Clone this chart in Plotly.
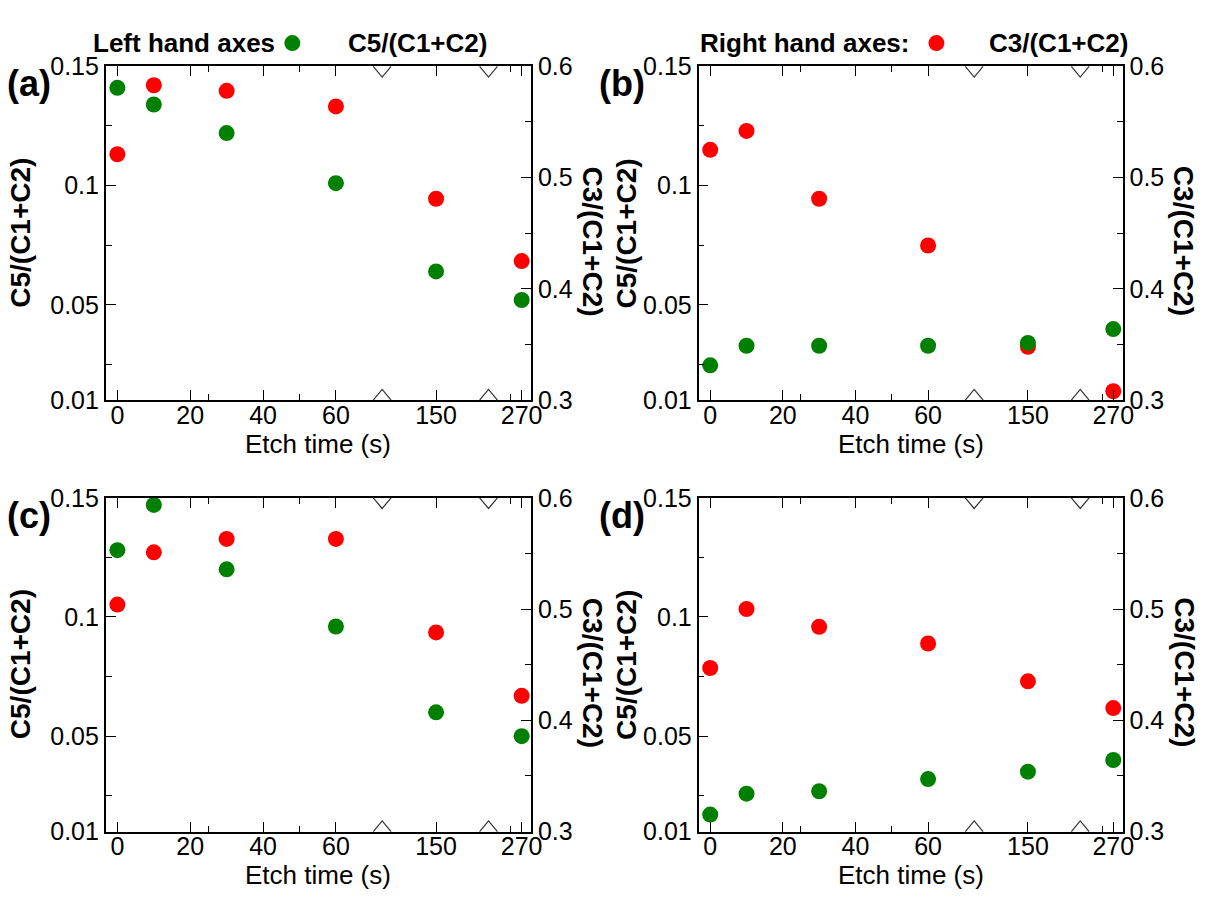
import numpy as np
import plotly.graph_objects as go

# ---- data -------------------------------------------------------------
etch_time = [0, 10, 30, 60, 150, 270]

c5_a = [0.141, 0.134, 0.122, 0.101, 0.064, 0.052]
c3_a = [0.521, 0.583, 0.578, 0.564, 0.481, 0.425]
c5_b = [0.0246, 0.0328, 0.0328, 0.0328, 0.0340, 0.0398]
c3_b = [0.525, 0.542, 0.481, 0.439, 0.348, 0.308]
c5_c = [0.128, 0.147, 0.120, 0.096, 0.060, 0.050]
c3_c = [0.504, 0.551, 0.563, 0.563, 0.479, 0.422]
c5_d = [0.0171, 0.0259, 0.0269, 0.0320, 0.0351, 0.0400]
c3_d = [0.447, 0.500, 0.484, 0.469, 0.435, 0.411]

x_tick_times = [0, 20, 40, 60, 150, 270]
x_tick_labels = ["0", "20", "40", "60", "150", "270"]
x_minor_times = [25, 50, 255]

left_ticks = [0.01, 0.05, 0.1, 0.15]
left_labels = ["0.01", "0.05", "0.1", "0.15"]
left_minor = [0.025, 0.075, 0.125]
right_ticks = [0.3, 0.4, 0.5, 0.6]
right_labels = ["0.3", "0.4", "0.5", "0.6"]
right_minor = [0.35, 0.45, 0.55]

# ---- broken time axis --------------------------------------------------
# 0-60 s is drawn to scale, the long times sit after two axis breaks
TIME_ANCHORS = [0, 60, 150, 270]
AXIS_ANCHORS = [0, 60, 87.5, 111.0]
BREAK_POS = [72.7, 101.9]
X_RANGE = [-3.2, 113.6]


def to_axis(times):
    return list(np.interp(times, TIME_ANCHORS, AXIS_ANCHORS))


GREEN = "#008000"
RED = "#ff0000"
FONT = "Liberation Sans, Arial, sans-serif"
W, H = 1211, 917


def px(x):
    return x / W


def py(y):
    return 1 - y / H


col_dom = [[px(106.7), px(536)], [px(705), px(1133)]]
row_dom = [[py(398.3), py(54)], [py(843.3), py(499)]]
left_title_gap = [86, 73]

panels = [
    ("(a)", c5_a, c3_a, 0, 0),
    ("(b)", c5_b, c3_b, 0, 1),
    ("(c)", c5_c, c3_c, 1, 0),
    ("(d)", c5_d, c3_d, 1, 1),
]

fig = go.Figure()
layout = {}
shapes = []
annotations = []

tick_font = dict(family=FONT, size=25, color="black")
minor_style = dict(ticks="inside", ticklen=6, tickwidth=1.3, tickcolor="black")
axis_common = dict(
    showline=True, linecolor="black", linewidth=1.6,
    ticks="inside", ticklen=10, tickwidth=1.3, tickcolor="black",
    showgrid=False, zeroline=False, tickfont=tick_font,
)

for k, (label, c5, c3, r, c) in enumerate(panels, start=1):
    xname = "x" if k == 1 else f"x{k}"
    base_n, over_n = 2 * k - 1, 2 * k
    base = "y" if base_n == 1 else f"y{base_n}"
    over = f"y{over_n}"

    # C3 ratio on the right-hand axis
    fig.add_trace(go.Scatter(
        x=to_axis(etch_time), y=c3, xaxis=xname, yaxis=base, mode="markers",
        marker=dict(color=RED, size=16), cliponaxis=False, showlegend=False,
        name="C3/(C1+C2)"))
    # C5 ratio on the left-hand axis
    fig.add_trace(go.Scatter(
        x=to_axis(etch_time), y=c5, xaxis=xname, yaxis=over, mode="markers",
        marker=dict(color=GREEN, size=16), cliponaxis=False, showlegend=False,
        name="C5/(C1+C2)"))

    layout["xaxis" if k == 1 else f"xaxis{k}"] = dict(
        axis_common, domain=col_dom[c], anchor=base, range=X_RANGE,
        tickvals=to_axis(x_tick_times), ticktext=x_tick_labels, mirror="ticks",
        ticklabelstandoff=-8,
        minor=dict(minor_style, tickvals=to_axis(x_minor_times)),
    )
    layout["yaxis" if base_n == 1 else f"yaxis{base_n}"] = dict(
        axis_common, domain=row_dom[r], anchor=xname, side="right",
        range=[0.3, 0.6], tickvals=right_ticks, ticktext=right_labels,
        minor=dict(minor_style, tickvals=right_minor),
    )
    layout[f"yaxis{over_n}"] = dict(
        axis_common, overlaying=base, anchor=xname, side="left",
        range=[0.01, 0.15], tickvals=left_ticks, ticktext=left_labels,
        minor=dict(minor_style, tickvals=left_minor),
    )

    # axis-break marks on the top and bottom frame lines
    yref = f"{base} domain"
    hw, hh = 2.45, 0.032
    for bx in BREAK_POS:
        shapes.append(dict(type="path", xref=xname, yref=yref,
                           path=f"M{bx-hw},1 L{bx},{1-hh} L{bx+hw},1",
                           line=dict(color="#333333", width=1.2)))
        shapes.append(dict(type="path", xref=xname, yref=yref,
                           path=f"M{bx-hw},0 L{bx},{hh} L{bx+hw},0",
                           line=dict(color="#333333", width=1.2)))

    x0, x1 = col_dom[c]
    y0, y1 = row_dom[r]
    xm = (x0 + x1) / 2
    ym = (y0 + y1) / 2
    # x-axis title
    annotations.append(dict(text="Etch time (s)", xref="paper", yref="paper",
                            x=xm, y=y0 - 45 / H, xanchor="center",
                            yanchor="middle", showarrow=False,
                            font=dict(family=FONT, size=26, color="black")))
    # left and right axis titles
    annotations.append(dict(text="<b>C5/(C1+C2)</b>", xref="paper", yref="paper",
                            x=x0 - left_title_gap[c] / W, y=ym, textangle=-90,
                            xanchor="center", yanchor="middle", showarrow=False,
                            font=dict(family=FONT, size=28, color="black")))
    annotations.append(dict(text="<b>C3/(C1+C2)</b>", xref="paper", yref="paper",
                            x=x1 + 62 / W, y=ym - 8 / H, textangle=90,
                            xanchor="center", yanchor="middle", showarrow=False,
                            font=dict(family=FONT, size=28, color="black")))
    # panel label
    annotations.append(dict(text=f"<b>{label}</b>", xref="paper", yref="paper",
                            x=x0 - 77 / W, y=y1 - 18 / H, xanchor="center",
                            yanchor="middle", showarrow=False,
                            font=dict(family=FONT, size=36, color="black")))

# key above the panels
key_y = py(30)
key_font = dict(family=FONT, size=26, color="black")
annotations += [
    dict(text="<b>Left hand axes</b>", xref="paper", yref="paper", x=px(280),
         y=key_y, xanchor="right", yanchor="middle", showarrow=False,
         font=key_font),
    dict(text="<b>C5/(C1+C2)</b>", xref="paper", yref="paper", x=px(349),
         y=key_y, xanchor="left", yanchor="middle", showarrow=False,
         font=key_font),
    dict(text="<b>Right hand axes:</b>", xref="paper", yref="paper", x=px(704),
         y=key_y, xanchor="left", yanchor="middle", showarrow=False,
         font=key_font),
    dict(text="<b>C3/(C1+C2)</b>", xref="paper", yref="paper", x=px(996),
         y=key_y, xanchor="left", yanchor="middle", showarrow=False,
         font=key_font),
]
for cx, col in [(295, GREEN), (945, RED)]:
    shapes.append(dict(type="circle", xref="paper", yref="paper",
                       xsizemode="pixel", ysizemode="pixel",
                       xanchor=px(cx), yanchor=key_y,
                       x0=-8, x1=8, y0=-8, y1=8,
                       fillcolor=col, line=dict(width=0)))

fig.update_layout(
    layout,
    width=W, height=H, margin=dict(l=0, r=0, t=0, b=0),
    paper_bgcolor="white", plot_bgcolor="white",
    shapes=shapes, annotations=annotations, showlegend=False,
)

fig.write_html("out.html")
